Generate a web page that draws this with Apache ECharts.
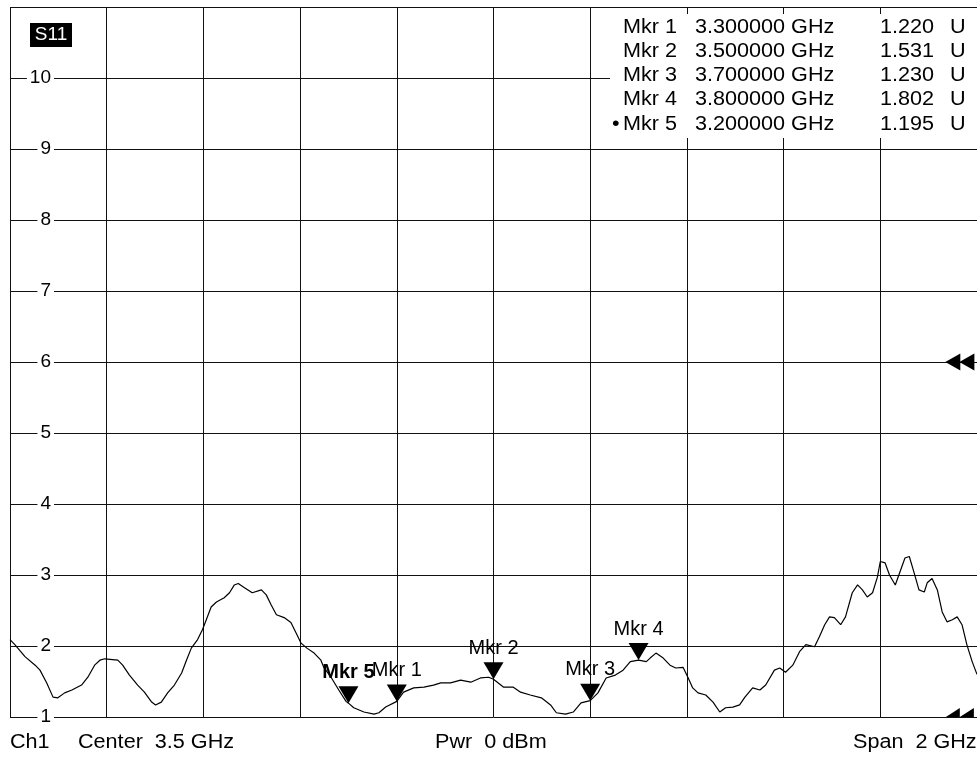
<!DOCTYPE html>
<html>
<head>
<meta charset="utf-8">
<title>S11</title>
<script src="https://cdn.jsdelivr.net/npm/echarts@6/dist/echarts.min.js"></script>
<style>
html, body { margin: 0; padding: 0; background: #fff; }
#chart { width: 977px; height: 758px; }
</style>
</head>
<body>
<div id="chart"></div>
<script>
// S11 trace: frequency (GHz) / VSWR (U)
var traceFreq = [
  2.500, 2.510, 2.531, 2.552, 2.562, 2.576, 2.589, 2.599, 2.613, 2.628,
  2.648, 2.661, 2.675, 2.686, 2.696, 2.723, 2.733, 2.747, 2.764, 2.778,
  2.793, 2.801, 2.813, 2.826, 2.840, 2.855, 2.865, 2.875, 2.888, 2.898,
  2.906, 2.916, 2.927, 2.943, 2.954, 2.964, 2.972, 2.985, 3.001, 3.020,
  3.030, 3.040, 3.051, 3.067, 3.081, 3.092, 3.102, 3.114, 3.129, 3.143,
  3.149, 3.164, 3.180, 3.195, 3.200, 3.211, 3.232, 3.253, 3.263, 3.277,
  3.300, 3.314, 3.335, 3.356, 3.376, 3.391, 3.411, 3.432, 3.453, 3.473,
  3.490, 3.500, 3.521, 3.541, 3.556, 3.576, 3.599, 3.618, 3.630, 3.649,
  3.665, 3.681, 3.700, 3.716, 3.733, 3.752, 3.768, 3.783, 3.800, 3.816,
  3.824, 3.836, 3.851, 3.865, 3.877, 3.892, 3.902, 3.912, 3.923, 3.939,
  3.954, 3.968, 3.980, 3.995, 4.009, 4.020, 4.036, 4.051, 4.063, 4.081,
  4.092, 4.104, 4.119, 4.133, 4.146, 4.150, 4.164, 4.174, 4.185, 4.195,
  4.205, 4.218, 4.228, 4.242, 4.253, 4.263, 4.273, 4.284, 4.294, 4.300,
  4.310, 4.319, 4.331, 4.341, 4.351, 4.360, 4.370, 4.380, 4.391, 4.397,
  4.407, 4.418, 4.428, 4.438, 4.449, 4.459, 4.469, 4.479, 4.490, 4.500
];
var traceVswr = [
  2.09, 2.02, 1.85, 1.73, 1.66, 1.48, 1.28, 1.27, 1.34, 1.38,
  1.45, 1.56, 1.73, 1.80, 1.82, 1.80, 1.73, 1.59, 1.45, 1.35,
  1.21, 1.17, 1.21, 1.34, 1.45, 1.62, 1.80, 1.97, 2.09, 2.23,
  2.37, 2.55, 2.62, 2.68, 2.75, 2.86, 2.88, 2.82, 2.75, 2.79,
  2.72, 2.58, 2.44, 2.40, 2.33, 2.18, 2.04, 1.97, 1.90, 1.80,
  1.70, 1.56, 1.38, 1.22, 1.195, 1.13, 1.07, 1.04, 1.06, 1.14,
  1.22, 1.35, 1.41, 1.42, 1.45, 1.48, 1.48, 1.52, 1.49, 1.55,
  1.56, 1.531, 1.42, 1.42, 1.35, 1.31, 1.27, 1.17, 1.06, 1.04,
  1.07, 1.20, 1.23, 1.34, 1.55, 1.59, 1.66, 1.78, 1.802, 1.78,
  1.83, 1.90, 1.83, 1.73, 1.69, 1.70, 1.56, 1.41, 1.34, 1.31,
  1.21, 1.07, 1.13, 1.14, 1.17, 1.28, 1.41, 1.38, 1.45, 1.66,
  1.69, 1.63, 1.73, 1.92, 2.02, 2.03, 1.99, 2.13, 2.30, 2.41,
  2.40, 2.30, 2.41, 2.75, 2.86, 2.79, 2.69, 2.75, 2.97, 3.19,
  3.17, 3.00, 2.86, 3.05, 3.24, 3.26, 3.03, 2.79, 2.76, 2.89,
  2.95, 2.79, 2.48, 2.34, 2.37, 2.41, 2.30, 2.02, 1.78, 1.60
];

// markers (Mkr 5 is the active one)
var mkrNames = ['Mkr 1', 'Mkr 2', 'Mkr 3', 'Mkr 4', 'Mkr 5'];
var mkrFreqs = [3.3, 3.5, 3.7, 3.8, 3.2];
var mkrValues = [1.220, 1.531, 1.230, 1.802, 1.195];
var activeMkr = 4;

// reference arrows at the right edge
var refFreqs = [4.450, 4.479];
var refLevels = [6, 1];

var footerTexts = ['Ch1', 'Center  3.5 GHz', 'Pwr  0 dBm', 'Span  2 GHz'];
var footerX = [10, 78, 435, 853];

var FONT = '"Liberation Sans", Arial, sans-serif';

var chart = echarts.init(document.getElementById('chart'));

var tracePts = [];
for (var i = 0; i < traceFreq.length; i++) {
  tracePts.push([traceFreq[i], traceVswr[i]]);
}

var mkrPts = [];
for (var i = 0; i < mkrNames.length; i++) {
  var item = { name: mkrNames[i], value: [mkrFreqs[i], mkrValues[i]] };
  if (i === activeMkr) {
    item.label = { fontWeight: 'bold' };
  }
  mkrPts.push(item);
}

var refTop = [], refBottom = [];
for (var i = 0; i < refFreqs.length; i++) {
  refTop.push([refFreqs[i], refLevels[0]]);
  refBottom.push([refFreqs[i], refLevels[1]]);
}

// marker table + footer + S11 badge
var graphics = [
  { type: 'rect', z: 50, shape: { x: 610, y: 14, width: 367, height: 124 }, style: { fill: '#fff' } },
  { type: 'rect', z: 50, shape: { x: 30, y: 23, width: 42, height: 24 }, style: { fill: '#000' } },
  { type: 'text', z: 51, x: 51, y: 35, style: { text: 'S11', fill: '#fff', font: '19px ' + FONT, textAlign: 'center', textVerticalAlign: 'middle' } }
];
for (var i = 0; i < mkrNames.length; i++) {
  var ty = 27 + i * 24.3;
  var st = function (txt, x) {
    return { type: 'text', z: 51, x: x, y: ty, scaleX: 1.08,
      style: { text: txt, fill: '#000', font: '20px ' + FONT, textVerticalAlign: 'middle' } };
  };
  if (i === activeMkr) graphics.push(st('\u2022', 612));
  graphics.push(st(mkrNames[i], 623));
  graphics.push(st(mkrFreqs[i].toFixed(6) + ' GHz', 695));
  graphics.push(st(mkrValues[i].toFixed(3), 880));
  graphics.push(st('U', 950));
}
for (var i = 0; i < footerTexts.length; i++) {
  graphics.push({ type: 'text', z: 51, x: footerX[i], y: 742, scaleX: 1.08,
    style: { text: footerTexts[i], fill: '#000', font: '20px ' + FONT, textVerticalAlign: 'middle' } });
}

var option = {
  animation: false,
  backgroundColor: '#fff',
  grid: { left: 10, right: -3, top: 7, bottom: 41 },
  xAxis: [
    {
      // frequency axis used by the series
      type: 'value', min: 2.5, max: 4.5, show: false
    },
    {
      // divisions, only for the graticule
      type: 'value', min: 0, max: 10, interval: 1,
      axisLine: { show: false }, axisTick: { show: false }, axisLabel: { show: false },
      splitLine: { show: true, lineStyle: { color: '#111', width: 1 } }
    }
  ],
  yAxis: {
    type: 'value', min: 1, max: 11, interval: 1,
    axisLine: { show: false }, axisTick: { show: false },
    axisLabel: {
      inside: true, margin: 44, align: 'right', showMaxLabel: false,
      color: '#000', fontSize: 19, fontFamily: FONT,
      backgroundColor: '#fff', padding: [0, 3]
    },
    splitLine: { show: true, lineStyle: { color: '#111', width: 1 } }
  },
  graphic: graphics,
  series: [
    {
      type: 'line', xAxisIndex: 0, data: tracePts,
      showSymbol: false, smooth: false,
      lineStyle: { color: '#000', width: 1.2 }, z: 3
    },
    {
      type: 'scatter', xAxisIndex: 0, data: mkrPts,
      symbol: 'path://M0,0 L20,0 L10,17 Z', symbolSize: [20, 17], symbolOffset: [0, '-50%'],
      itemStyle: { color: '#000', opacity: 1 },
      label: { show: true, position: 'top', distance: 4, formatter: '{b}', color: '#000', fontSize: 20, fontFamily: FONT },
      z: 4
    },
    {
      type: 'scatter', xAxisIndex: 0, data: refTop,
      symbol: 'path://M0,8 L15,0 L15,16 Z', symbolSize: [15, 17],
      itemStyle: { color: '#000', opacity: 1 }, z: 4
    },
    {
      type: 'scatter', xAxisIndex: 0, data: refBottom,
      symbol: 'path://M0,9 L14,0 L14,9 Z', symbolSize: [14, 9], symbolOffset: [0, '-50%'],
      itemStyle: { color: '#000', opacity: 1 }, z: 4
    }
  ]
};

chart.setOption(option);
</script>
</body>
</html>
